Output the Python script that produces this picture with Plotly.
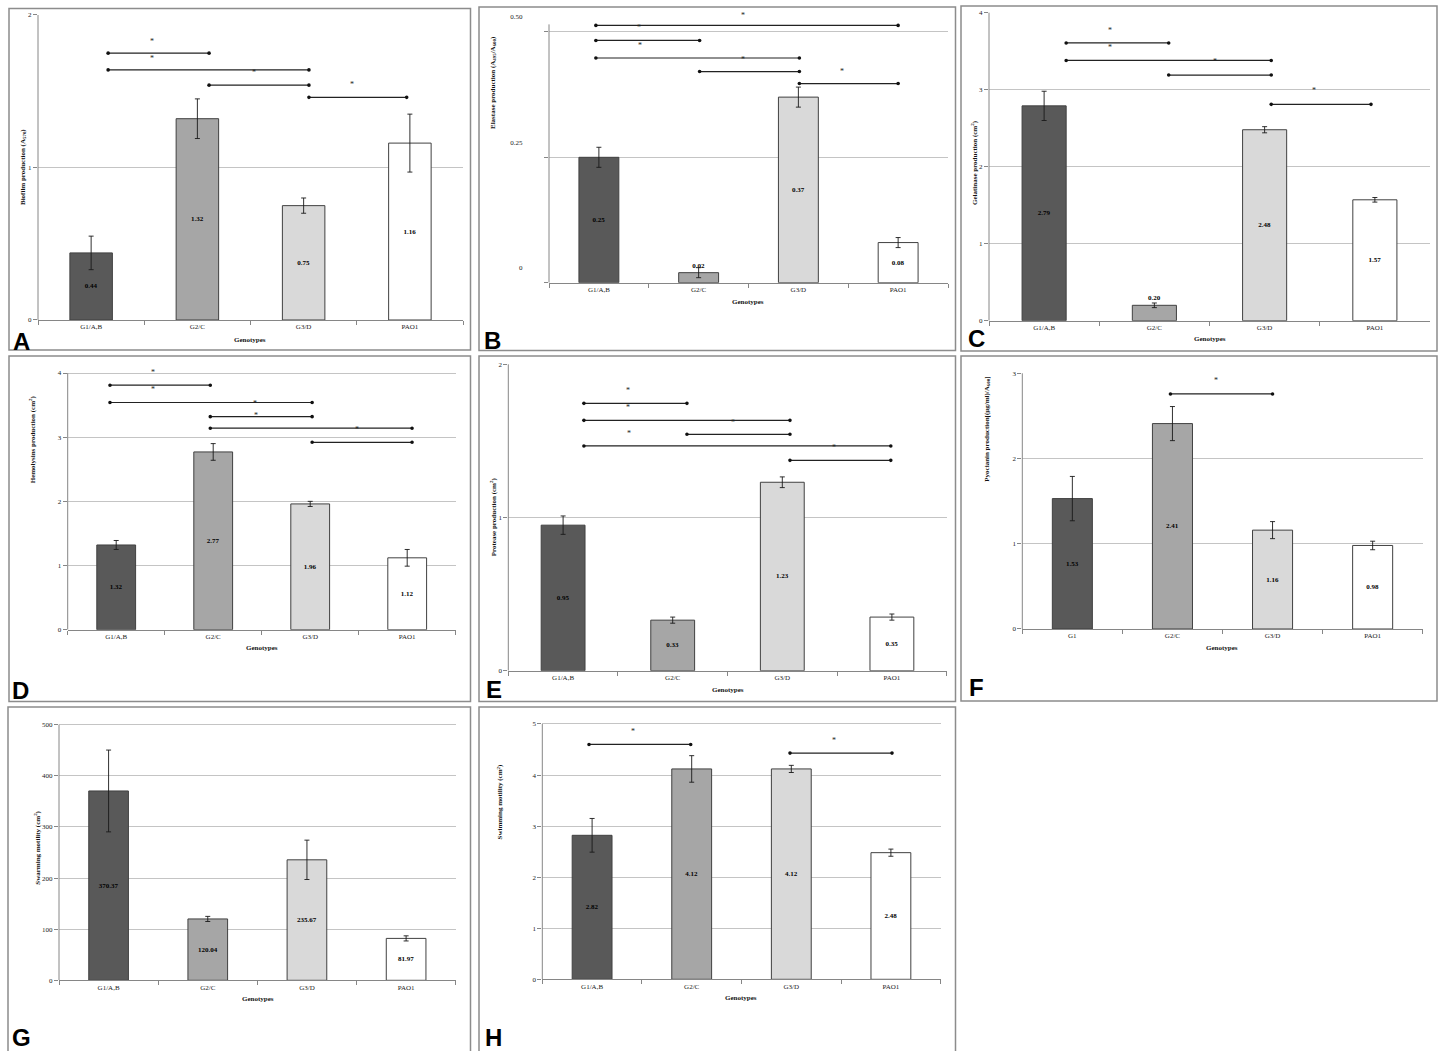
import plotly.graph_objects as go

W, H = 1442, 1051

# ---------------- data ----------------
CATEGORIES = ["G1/A,B", "G2/C", "G3/D", "PAO1"]
CATEGORIES_F = ["G1", "G2/C", "G3/D", "PAO1"]

biofilm = [0.44, 1.32, 0.75, 1.16]
biofilm_err = [0.11, 0.13, 0.05, 0.19]
elastase = [0.25, 0.02, 0.37, 0.08]
elastase_err = [0.02, 0.01, 0.02, 0.01]
gelatinase = [2.79, 0.20, 2.48, 1.57]
gelatinase_err = [0.19, 0.03, 0.04, 0.03]
hemolysins = [1.32, 2.77, 1.96, 1.12]
hemolysins_err = [0.07, 0.13, 0.04, 0.13]
protease = [0.95, 0.33, 1.23, 0.35]
protease_err = [0.06, 0.02, 0.035, 0.02]
pyocianin = [1.53, 2.41, 1.16, 0.98]
pyocianin_err = [0.26, 0.20, 0.10, 0.05]
swarming = [370.37, 120.04, 235.67, 81.97]
swarming_err = [80.0, 5.0, 38.5, 5.0]
swimming = [2.82, 4.12, 4.12, 2.48]
swimming_err = [0.33, 0.26, 0.07, 0.07]

# y tick values / labels
ticks_A = [0, 1, 2]
ticks_B = [0, 0.25, 0.5]
ticklabels_B = ["0", "0.25", "0.50"]
ticks_C = [0, 1, 2, 3, 4]
ticks_D = [0, 1, 2, 3, 4]
ticks_E = [0, 1, 2]
ticks_F = [0, 1, 2, 3]
ticks_G = [0, 100, 200, 300, 400, 500]
ticks_H = [0, 1, 2, 3, 4, 5]

# significance brackets: (group i, group j, height) and asterisk marks (position, height)
sig_A = [(0, 1, 1.75), (0, 2, 1.64), (1, 2, 1.54), (2, 3, 1.46)]
stars_A = [(0.57, 1.84), (0.57, 1.73), (1.53, 1.635), (2.455, 1.56)]
sig_B = [(0, 3, 0.513), (0, 1, 0.483), (0, 2, 0.448), (1, 2, 0.421), (2, 3, 0.397)]
stars_B = [(0.405, 0.513), (1.445, 0.537), (0.415, 0.477), (1.445, 0.449), (2.44, 0.425)]
sig_C = [(0, 1, 3.607), (0, 2, 3.38), (1, 2, 3.19), (2, 3, 2.81)]
stars_C = [(0.597, 3.80), (0.597, 3.575), (1.55, 3.39), (2.448, 3.01)]
sig_D = [(0, 1, 3.81), (0, 2, 3.54), (1, 2, 3.32), (1, 3, 3.14), (2, 3, 2.92)]
stars_D = [(0.382, 4.04), (0.382, 3.77), (1.431, 3.55), (1.438, 3.37), (2.479, 3.15)]
sig_E = [(0, 1, 1.745), (0, 2, 1.634), (1, 2, 1.543), (0, 3, 1.467), (2, 3, 1.373)]
stars_E = [(0.595, 1.843), (0.595, 1.728), (1.553, 1.634), (0.604, 1.563), (2.474, 1.467)]
sig_F = [(1, 2, 2.758)]
stars_F = [(1.432, 2.934)]
sig_G = []
stars_G = []
sig_H = [(0, 1, 4.60), (2, 3, 4.43)]
stars_H = [(0.414, 4.895), (2.432, 4.725)]

# ---------------- style ----------------
SERIF = "Liberation Serif"
SANS = "Liberation Sans"
BAR_COLORS = ["#595959", "#a6a6a6", "#d9d9d9", "#ffffff"]
BAR_EDGE = "#404040"
AXIS = "#868686"
GRID = "#c4c4c4"
BOX = "#8c8c8c"

# layout of each panel in pixels
panels = [
    dict(letter="A", cats=CATEGORIES, vals=biofilm, err=biofilm_err, tv=ticks_A, tt=None,
         sig=sig_A, stars=stars_A, anchors=[0.16, 1.11, 2.05, 2.97],
         ytitle="Biofilm production (A<sub>570</sub>)",
         xl=38, xr=463, y0=320, ytop=15, ymax=2, rtop=2.005, line_top=2,
         box=(9, 8.5, 470.5, 350), let=(21.5, 341), xt=(250, 340), yt=(23, 167)),
    dict(letter="B", cats=CATEGORIES, vals=elastase, err=elastase_err, tv=ticks_B, tt=ticklabels_B,
         sig=sig_B, stars=stars_B, anchors=[-0.03, 1.01, 2.01, 3.0],
         ytitle="Elastase production (A<sub>495</sub>/A<sub>600</sub>)",
         xl=549, xr=948, y0=282.7, ytop=31.9, ymax=0.5, rtop=0.55, line_top=0.515,
         box=(479, 7, 955.5, 350.5), let=(492, 340), xt=(748, 301.7), yt=(493, 83),
         shift=-15, standoff=20),
    dict(letter="C", cats=CATEGORIES, vals=gelatinase, err=gelatinase_err, tv=ticks_C, tt=None,
         sig=sig_C, stars=stars_C, anchors=[0.2, 1.13, 2.06, 2.965],
         ytitle="Gelatinase production (cm<sup>2</sup>)",
         xl=989, xr=1430, y0=320.7, ytop=12.7, ymax=4, rtop=4.01, line_top=4,
         box=(961, 6, 1437, 351), let=(976, 338), xt=(1210, 339.3), yt=(975, 163)),
    dict(letter="D", cats=CATEGORIES, vals=hemolysins, err=hemolysins_err, tv=ticks_D, tt=None,
         sig=sig_D, stars=stars_D, anchors=[-0.064, 0.97, 2.02, 3.05],
         ytitle="Hemolysins production (cm<sup>2</sup>)",
         xl=67.7, xr=455.7, y0=629.7, ytop=373, ymax=4, rtop=4.09, line_top=4,
         box=(9, 356, 470.5, 701.5), let=(20, 690), xt=(261.7, 648.3), yt=(32.3, 439)),
    dict(letter="E", cats=CATEGORIES, vals=protease, err=protease_err, tv=ticks_E, tt=None,
         sig=sig_E, stars=stars_E, anchors=[0.19, 1.13, 2.07, 2.99],
         ytitle="Protease production (cm<sup>2</sup>)",
         xl=508.3, xr=946.7, y0=670.7, ytop=364.3, ymax=2, rtop=2.005, line_top=2,
         box=(479, 356, 955.5, 701.5), let=(494, 689), xt=(728.3, 690), yt=(493.3, 517)),
    dict(letter="F", cats=CATEGORIES_F, vals=pyocianin, err=pyocianin_err, tv=ticks_F, tt=None,
         sig=sig_F, stars=stars_F, anchors=[0.0, 0.98, 2.0, 3.0],
         ytitle="Pyocianin production[(µg/ml)/A<sub>600</sub>]",
         xl=1022.3, xr=1422.7, y0=629, ytop=373.3, ymax=3, rtop=3.01, line_top=3,
         box=(961, 356, 1437, 701), let=(976, 687), xt=(1222.3, 648.3), yt=(986.7, 429)),
    dict(letter="G", cats=CATEGORIES, vals=swarming, err=swarming_err, tv=ticks_G, tt=None,
         sig=sig_G, stars=stars_G, anchors=[0, 1, 2, 3],
         ytitle="Swarming motility (cm<sup>2</sup>)",
         xl=59, xr=455.7, y0=980.3, ytop=724.7, ymax=500, rtop=502, line_top=500,
         box=(8, 707, 470.5, 1053), let=(21, 1037), xt=(257.7, 999.3), yt=(36.7, 848)),
    dict(letter="H", cats=CATEGORIES, vals=swimming, err=swimming_err, tv=ticks_H, tt=None,
         sig=sig_H, stars=stars_H, anchors=[-0.031, 0.99, 1.987, 3.011],
         ytitle="Swimming motility (cm<sup>2</sup>)",
         xl=542.3, xr=940.7, y0=979.3, ytop=724, ymax=5, rtop=5.02, line_top=5,
         box=(479, 707, 955.5, 1053), let=(493, 1037), xt=(741, 998.3), yt=(500, 802.5)),
]


def px_x(p):
    return p / W


def px_y(p):
    return 1 - p / H


fig = go.Figure()
shapes = []
annotations = []
layout_axes = {}
small_font = dict(family=SERIF, size=7, color="#222222")
bold_font = dict(family=SERIF, size=7, color="#111111", weight="bold")

for i, P in enumerate(panels):
    n = "" if i == 0 else str(i + 1)
    xa, ya = "x" + n, "y" + n
    ppu = (P["y0"] - P["ytop"]) / P["ymax"]
    top_px = P["y0"] - P["rtop"] * ppu

    positions = ["outside" if v / P["ymax"] < 0.08 else "inside" for v in P["vals"]]
    fig.add_trace(go.Bar(
        x=P["cats"], y=P["vals"], width=0.4,
        marker=dict(color=BAR_COLORS, line=dict(color=BAR_EDGE, width=1)),
        error_y=dict(type="data", array=P["err"], visible=True, color="#1a1a1a",
                     thickness=0.9, width=2.5),
        text=[f"{v:.2f}" for v in P["vals"]], textposition=positions,
        insidetextanchor="middle", textangle=0, cliponaxis=False,
        textfont=dict(family=SERIF, size=7, color="black", weight="bold"),
        xaxis=xa, yaxis=ya, showlegend=False, hoverinfo="skip",
    ))

    xkey = "xaxis" + n
    ykey = "yaxis" + n
    layout_axes[xkey] = dict(
        domain=[px_x(P["xl"]), px_x(P["xr"])], anchor=ya, type="category",
        categoryorder="array", categoryarray=P["cats"], range=[-0.5, 3.5],
        showline=True, linecolor=AXIS, linewidth=1, ticks="outside",
        tickson="boundaries", ticklen=4, tickcolor=AXIS, showgrid=False,
        tickfont=small_font, fixedrange=True, automargin=False,
    )
    ydict = dict(
        domain=[px_y(P["y0"]), px_y(top_px)], anchor=xa, range=[0, P["rtop"]],
        tickvals=P["tv"], showgrid=True, gridcolor=GRID, gridwidth=1.2,
        zeroline=False, showline=False, ticks="outside", ticklen=4, tickcolor=AXIS,
        tickfont=small_font, fixedrange=True, automargin=False,
    )
    if P["tt"] is not None:
        ydict["ticktext"] = P["tt"]
    if "shift" in P:
        ydict["ticklabelshift"] = P["shift"]
        ydict["ticklabelstandoff"] = P["standoff"]
    layout_axes[ykey] = ydict

    # y axis line
    shapes.append(dict(type="line", xref=f"{xa} domain", yref=ya, x0=0, x1=0,
                       y0=0, y1=P["line_top"], line=dict(color=AXIS, width=1)))

    # significance brackets
    for (a, b, h) in P["sig"]:
        xa0, xa1 = P["anchors"][a], P["anchors"][b]
        shapes.append(dict(type="line", xref=xa, yref=ya, x0=xa0, x1=xa1, y0=h, y1=h,
                           line=dict(color="#222222", width=1.2)))
        for xx in (xa0, xa1):
            shapes.append(dict(type="circle", xref=xa, yref=ya, xsizemode="pixel",
                               ysizemode="pixel", xanchor=xx, yanchor=h,
                               x0=-1.8, x1=1.8, y0=-1.8, y1=1.8,
                               fillcolor="#111111", line=dict(width=0)))
    for (sx, sy) in P["stars"]:
        annotations.append(dict(text="*", x=sx, y=sy, xref=xa, yref=ya, showarrow=False,
                                font=dict(family=SERIF, size=8, color="#222222"),
                                xanchor="center", yanchor="middle", yshift=-2))

    # panel frame
    bx0, by0, bx1, by1 = P["box"]
    shapes.append(dict(type="rect", xref="paper", yref="paper",
                       x0=px_x(bx0), x1=px_x(bx1), y0=px_y(by1), y1=px_y(by0),
                       line=dict(color=BOX, width=1.5), fillcolor="rgba(0,0,0,0)"))

    # panel letter
    annotations.append(dict(text=P["letter"], x=px_x(P["let"][0]), y=px_y(P["let"][1]),
                            xref="paper", yref="paper", showarrow=False,
                            xanchor="center", yanchor="middle",
                            font=dict(family=SANS, size=24, color="black", weight="bold")))
    # axis titles
    annotations.append(dict(text="Genotypes", x=px_x(P["xt"][0]), y=px_y(P["xt"][1]),
                            xref="paper", yref="paper", showarrow=False,
                            xanchor="center", yanchor="middle", font=bold_font))
    annotations.append(dict(text=P["ytitle"], x=px_x(P["yt"][0]), y=px_y(P["yt"][1]),
                            xref="paper", yref="paper", showarrow=False, textangle=-90,
                            xanchor="center", yanchor="middle", font=bold_font))

fig.update_layout(
    width=W, height=H, autosize=False,
    margin=dict(l=0, r=0, t=0, b=0, pad=0, autoexpand=False),
    paper_bgcolor="white", plot_bgcolor="white",
    showlegend=False, bargap=0.6,
    shapes=shapes, annotations=annotations,
    **layout_axes,
)

fig.write_html("out.html", config={"displayModeBar": False},
               post_script="document.body.style.margin='0';")
